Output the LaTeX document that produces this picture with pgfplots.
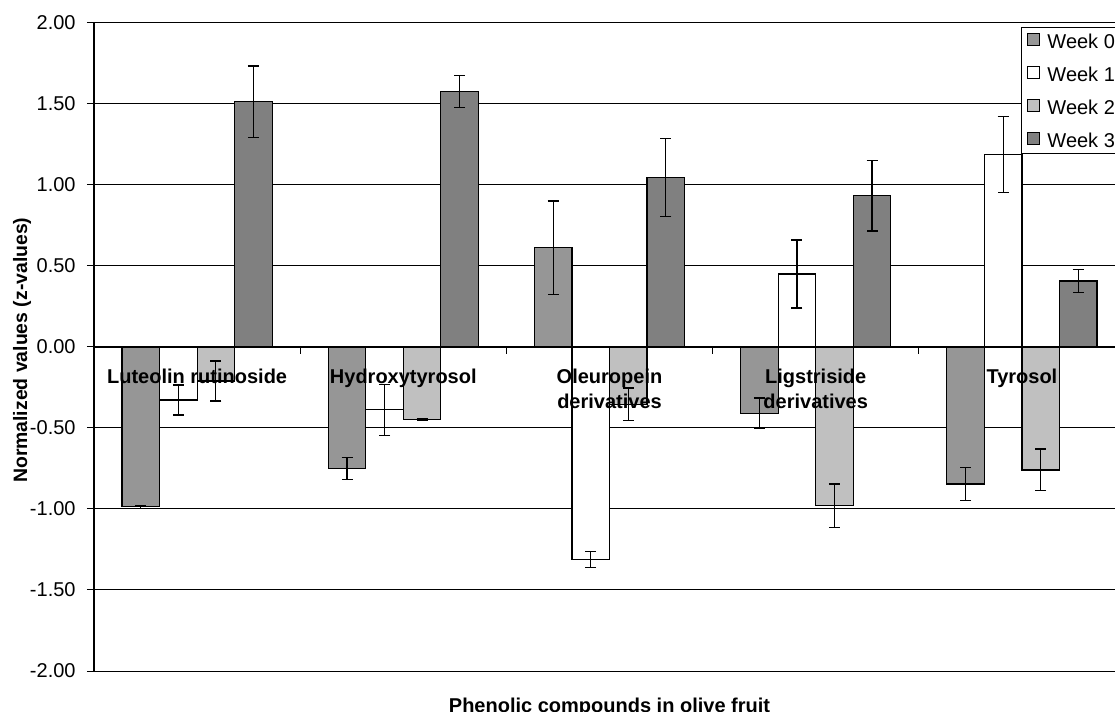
\documentclass[border=0pt]{standalone}
\usepackage{fontspec}
\setmainfont{Liberation Sans}
\usepackage{pgfplots}
\pgfplotsset{compat=1.18}
\usepackage{pgfplotstable}
\definecolor{wkzero}{RGB}{150,150,150}
\definecolor{wktwo}{RGB}{192,192,192}
\definecolor{wkthree}{RGB}{128,128,128}

\pgfplotstableread{
x y e
0 -0.986 0.010
1 -0.749 0.067
2 0.613 0.288
3 -0.410 0.095
4 -0.846 0.100
}\weekzero
\pgfplotstableread{
x y e
0 -0.327 0.093
1 -0.387 0.157
2 -1.311 0.050
3 0.451 0.210
4 1.190 0.235
}\weekone
\pgfplotstableread{
x y e
0 -0.210 0.123
1 -0.446 0.006
2 -0.353 0.100
3 -0.980 0.134
4 -0.759 0.129
}\weektwo
\pgfplotstableread{
x y e
0 1.514 0.220
1 1.576 0.100
2 1.047 0.240
3 0.934 0.218
4 0.407 0.072
}\weekthree

\pgfplotsset{
  errstyle/.style={
    error bars/.cd, y dir=both, y explicit,
    error bar style={line width=0.6bp, black},
    error mark options={rotate=90, mark size=2.75bp, line width=0.6bp, black},
    /pgfplots/.cd
  },
  barstyle/.style={ybar, bar width=0.182, bar shift=0pt, draw=black, line width=0.6bp, errstyle},
}
\tikzset{catlabel/.style={anchor=north, inner sep=0pt, yshift=-11bp, align=center,
  font=\bfseries\fontsize{10bp}{12.5bp}\selectfont}}

\begin{document}
\begin{tikzpicture}
\useasboundingbox (0,0) rectangle (557.5bp,356bp);
\clip (0,0) rectangle (557.5bp,356bp);
\begin{axis}[
  at={(47bp,20.5bp)}, anchor=south west,
  scale only axis, width=515.5bp, height=324bp,
  xmin=-0.5, xmax=4.5, ymin=-2, ymax=2,
  axis x line*=middle, axis y line*=left,
  axis line style={-, black, line width=0.6bp},
  hide obscured x ticks=false, hide obscured y ticks=false,
  ytick={-2,-1.5,-1,-0.5,0,0.5,1,1.5,2},
  /pgf/number format/assume math mode=true,
  yticklabel style={/pgf/number format/.cd, fixed, fixed zerofill, precision=2, /tikz/.cd,
    font=\fontsize{10bp}{12bp}\selectfont, xshift=-2.2bp},
  major tick length=3.5bp,
  tick align=outside,
  tick style={black, line width=0.5bp},
  xtick={0.5,1.5,2.5,3.5}, xticklabels={},
  ymajorgrids, major grid style={black, line width=0.5bp},
  xlabel={Phenolic compounds in olive fruit},
  xlabel style={at={(axis description cs:0.5,-0.041)}, anchor=north, inner sep=0pt, font=\bfseries\fontsize{10bp}{12bp}\selectfont},
  ylabel={Normalized values (z-values)},
  ylabel style={at={(axis description cs:-0.0698,0.495)}, anchor=center, inner sep=0pt, font=\bfseries\fontsize{9.7bp}{12bp}\selectfont},
  legend image code/.code={\draw[#1,/tikz/.cd, draw=black, line width=0.5bp] (0bp,-2.2bp) rectangle (6bp,3.8bp); \path (9.5bp,0bp);},
  legend style={at={(axis description cs:0.899,0.994)}, anchor=north west, draw=black, line width=0.5bp, fill=white,
    font=\fontsize{10bp}{11bp}\selectfont, inner xsep=3bp, inner ysep=3bp, row sep=8.8bp,
    nodes={inner sep=0pt, text height=7.2bp, text depth=0bp}, cells={anchor=west}},
]
\addplot[barstyle, fill=wkzero] table[x expr=\thisrow{x}-0.273, y=y, y error=e]{\weekzero};
\addlegendentry{Week 0}
\addplot[barstyle, fill=white] table[x expr=\thisrow{x}-0.091, y=y, y error=e]{\weekone};
\addlegendentry{Week 1}
\addplot[barstyle, fill=wktwo] table[x expr=\thisrow{x}+0.091, y=y, y error=e]{\weektwo};
\addlegendentry{Week 2}
\addplot[barstyle, fill=wkthree] table[x expr=\thisrow{x}+0.273, y=y, y error=e]{\weekthree};
\addlegendentry{Week 3}
\node[catlabel] at (axis cs:0,0) {Luteolin rutinoside};
\node[catlabel] at (axis cs:1,0) {Hydroxytyrosol};
\node[catlabel] at (axis cs:2,0) {Oleuropein\\derivatives};
\node[catlabel] at (axis cs:3,0) {Ligstriside\\derivatives};
\node[catlabel] at (axis cs:4,0) {Tyrosol};
\end{axis}
\end{tikzpicture}
\end{document}
